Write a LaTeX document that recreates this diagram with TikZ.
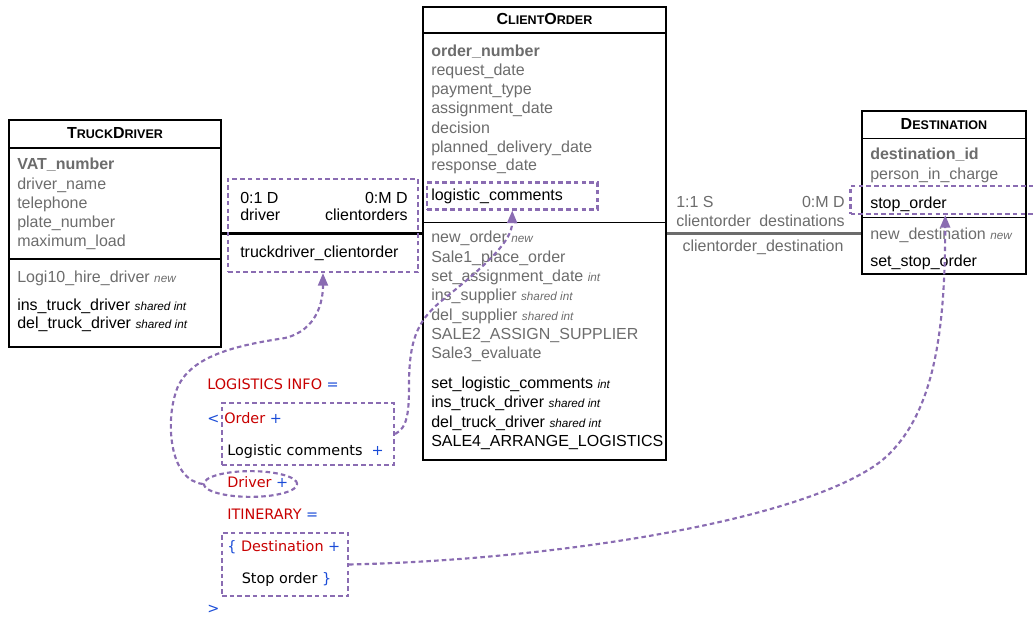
\documentclass[tikz,border=0pt]{standalone}
\usepackage{fontspec}
\setmainfont{Liberation Sans}
\newfontfamily\dfdfont{DejaVu Sans}
\usetikzlibrary{arrows.meta,shapes.geometric,fit}

\definecolor{attrgray}{RGB}{108,108,108}
\definecolor{dfdred}{RGB}{200,0,0}
\definecolor{dfdblue}{RGB}{25,75,215}
\definecolor{linkpurple}{RGB}{138,108,178}

\newcommand{\smc}[1]{{\fontsize{9.4}{10}\selectfont #1}}
\newcommand{\tg}[1]{{\fontsize{8.8}{10}\selectfont\itshape #1}}
\newcommand{\rd}[1]{\textcolor{dfdred}{#1}}
\newcommand{\bl}[1]{\textcolor{dfdblue}{#1}}

\begin{document}
\begin{tikzpicture}[x=0.75pt,y=-0.75pt,
  umlbox/.style={draw, line width=1.2pt, inner sep=0pt},
  linkbox/.style={draw=linkpurple, line width=1.6pt, dash pattern=on 3.4pt off 2.4pt, inner sep=0pt},
  link/.style={draw=linkpurple, line width=1.6pt, dash pattern=on 3.4pt off 2.4pt, -{Triangle[length=9.5pt,width=7.5pt]}},
  title/.style={anchor=base, inner sep=0pt, font=\fontsize{12}{14}\selectfont\bfseries},
  attr/.style={anchor=base west, inner sep=0pt, text=attrgray, font=\fontsize{12}{14}\selectfont},
  key/.style={attr, font=\fontsize{12}{14}\selectfont\bfseries},
  oper/.style={attr, text=black},
  dfd/.style={anchor=base west, inner sep=0pt, font=\dfdfont\fontsize{10.8}{13}\selectfont}]
\useasboundingbox (0,0) rectangle (1033,617);

% classes
\node[umlbox, fit={(9,120) (221,347)}] (truck) {};
\node[umlbox, fit={(423,7) (666,460)}] (order) {};
\node[umlbox, fit={(862,111) (1026,274)}] (dest) {};
\draw[line width=1.2pt] (9,148) -- (221,148) (9,259) -- (221,259);
\draw[line width=1.2pt] (423,33) -- (666,33) (423,222.5) -- (666,222.5);
\draw[line width=1.2pt] (862,138.5) -- (1026,138.5) (862,217.5) -- (1026,217.5);

\node[title] (trucktitle) at (115,138) {T\smc{RUCK}D\smc{RIVER}};
\node[title] (ordertitle) at (544.5,25) {C\smc{LIENT}O\smc{RDER}};
\node[title] (desttitle) at (944,130) {D\smc{ESTINATION}};

% truckdriver
\node[key] (tdkey) at (17,170) {VAT\_number};
\foreach \t [count=\i] in {driver\_name, telephone, plate\_number, maximum\_load}
  \node[attr] (tdattr\i) at (17,170+19.2*\i) {\t};
\node[attr] (tdop1) at (17,282) {Logi10\_hire\_driver \tg{new}};
\node[oper] (tdop2) at (17,310) {ins\_truck\_driver \tg{shared int}};
\node[oper] (tdop3) at (17,328.5) {del\_truck\_driver \tg{shared int}};

% clientorder
\node[key] (cokey) at (431,57) {order\_number};
\foreach \t [count=\i] in {request\_date, payment\_type, assignment\_date, decision, planned\_delivery\_date, response\_date}
  \node[attr] (coattr\i) at (431,57+19*\i) {\t};
\node[oper] (colog) at (431,200) {logistic\_comments};
\foreach \t [count=\i from 0] in {new\_order \tg{new}, Sale1\_place\_order, set\_assignment\_date \tg{int}, ins\_supplier \tg{shared int}, del\_supplier \tg{shared int}, SALE2\_ASSIGN\_SUPPLIER, Sale3\_evaluate}
  \node[attr] (coop\i) at (431,243+19.3*\i) {\t};
\foreach \t [count=\i from 0] in {set\_logistic\_comments \tg{int}, ins\_truck\_driver \tg{shared int}, del\_truck\_driver \tg{shared int}, SALE4\_ARRANGE\_LOGISTICS}
  \node[oper] (coact\i) at (431,388+19.5*\i) {\t};

% destination
\node[key] (dskey) at (870,160) {destination\_id};
\node[attr] (dsattr) at (870,180) {person\_in\_charge};
\node[oper] (dsstop) at (870,208.5) {stop\_order};
\node[attr] (dsop1) at (870,239) {new\_destination \tg{new}};
\node[oper] (dsop2) at (870,267) {set\_stop\_order};

% associations
\coordinate (assoclev) at (540,233.5);
\draw[line width=1.6pt] (truck.east |- assoclev) -- (order.west |- assoclev);
\draw[line width=1.6pt, attrgray] (order.east |- assoclev) -- (dest.west |- assoclev);

\node[oper] (tdmin) at (240,203.5) {0:1 D};
\node[oper, anchor=base east] (tdmax) at (408,203.5) {0:M D};
\node[oper] (tdrole1) at (240,220) {driver};
\node[oper, anchor=base east] (tdrole2) at (408,220) {clientorders};
\node[oper] (tdname) at (240,257.5) {truckdriver\_clientorder};

\node[attr] (cdmin) at (676,207.5) {1:1 S};
\node[attr, anchor=base east] (cdmax) at (845,207.5) {0:M D};
\node[attr] (cdrole1) at (676,226) {clientorder};
\node[attr, anchor=base east] (cdrole2) at (845,226) {destinations};
\node[attr, anchor=base] (cdname) at (763,251) {clientorder\_destination};

% data dictionary
\node[dfd] (dfdhead) at (207,389) {\rd{LOGISTICS INFO} \bl{=}};
\node[dfd] (dfdopen) at (207,423) {\bl{<}};
\node[dfd] (dfdorder) at (224,423) {\rd{Order} \bl{+}};
\node[dfd] (dfdcomm) at (227,455) {Logistic comments\ \ \bl{+}};
\node[dfd] (dfddrv) at (227,487) {\rd{Driver} \bl{+}};
\node[dfd] (dfditin) at (227,519) {\rd{ITINERARY} \bl{=}};
\node[dfd] (dfdbrace) at (227,551) {\bl{\{} \rd{Destination} \bl{+}};
\node[dfd] (dfdstop) at (241.5,583) {Stop order \bl{\}}};
\node[dfd] (dfdclose) at (207,613) {\bl{>}};

% links
\node[linkbox, fit={(228,179) (418,272)}] (tdcbox) {};
\node[linkbox, fit={(427,182.5) (597.5,209.5)}] (logbox) {};
\node[linkbox, fit={(850.5,186) (1040,214)}] (stopbox) {};
\node[linkbox, fit={(222,403) (394,465)}] (ordbox) {};
\node[linkbox, fit={(222,533) (348,596)}] (itinbox) {};
\node[linkbox, ellipse, minimum width=70pt, minimum height=19.3pt] (drvell) at (250.5,484) {};

\draw[link] (drvell.west) .. controls (170,480) and (166,425) .. (175,395) .. controls (185,355) and (240,345) .. (285,338) .. controls (318,330) and (323,300) .. (tdcbox.south);
\draw[link] (ordbox.east) .. controls (408,428) and (409,410) .. (409,385) .. controls (409,335) and (420,318) .. (445,298) .. controls (490,262) and (512,240) .. (logbox.south);
\draw[link] (itinbox.east) .. controls (550,560) and (800,522) .. (880,462) .. controls (935,418) and (945,330) .. (stopbox.south);
\end{tikzpicture}
\end{document}
